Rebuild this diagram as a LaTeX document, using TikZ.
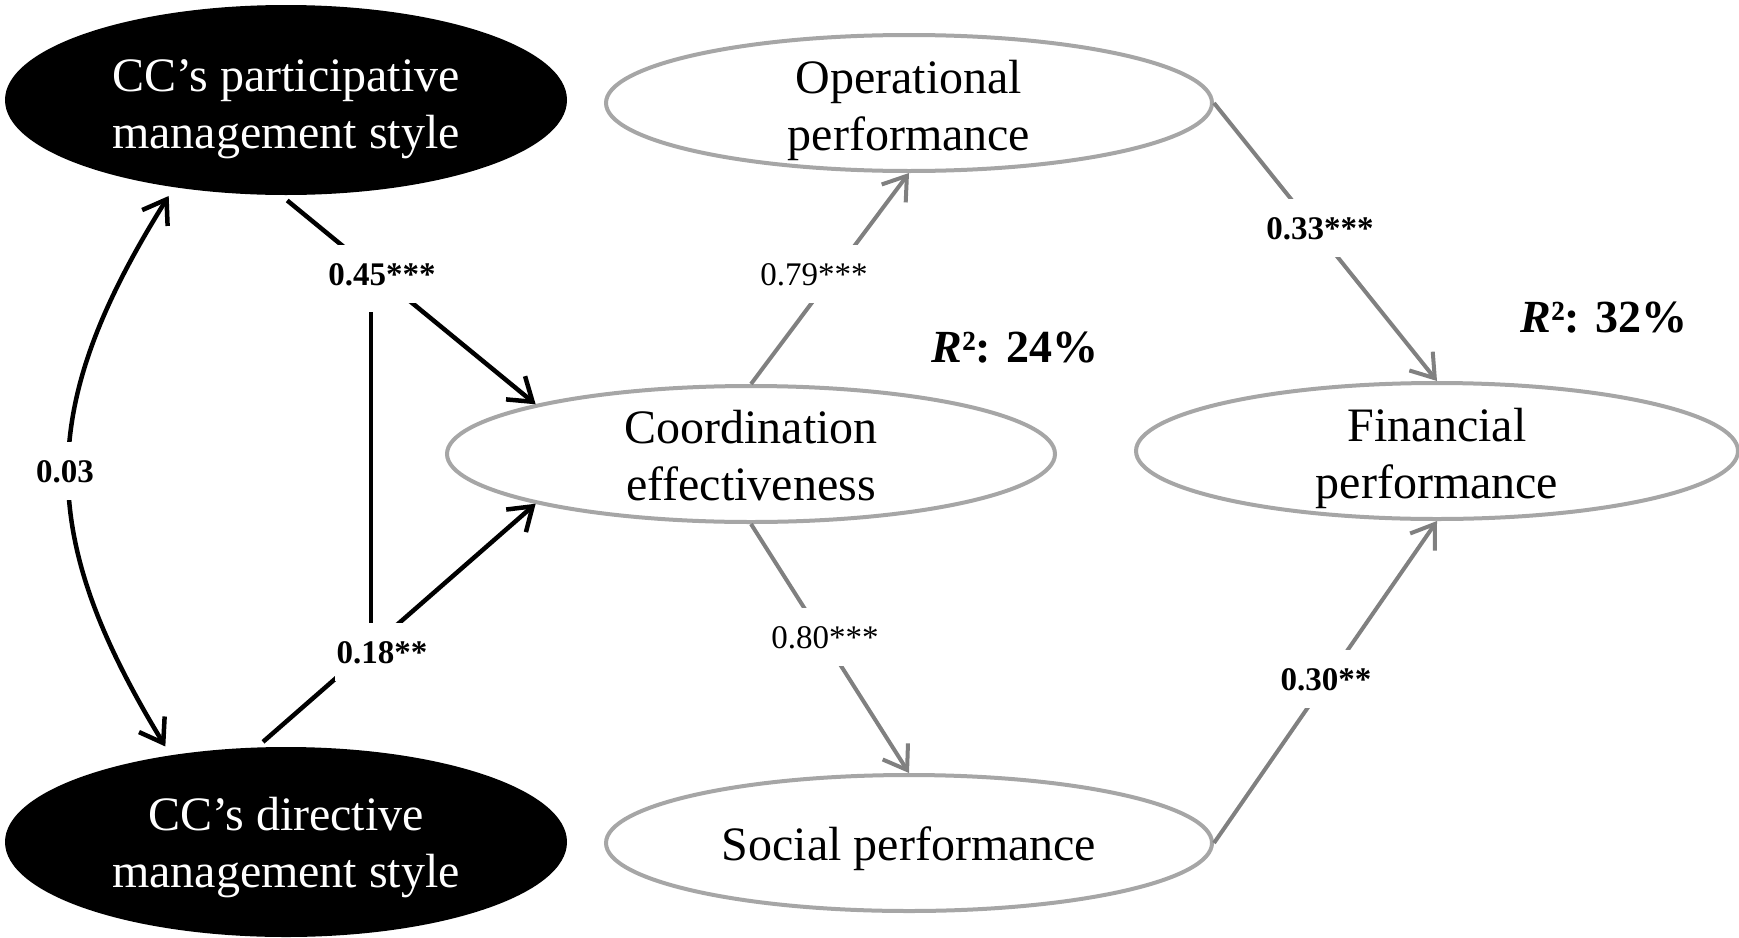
\documentclass[tikz,border=0pt]{standalone}
\usepackage{fontspec}
\setmainfont{Liberation Serif}
\usetikzlibrary{arrows.meta,shapes.geometric}
\definecolor{rimgray}{HTML}{A6A6A6}
\definecolor{pathgray}{HTML}{808080}
% lower a line of text without changing the box the node measures
\newcommand{\sink}[2]{\raisebox{-#1}[\height][\depth]{#2}}

\begin{document}
\begin{tikzpicture}[x=0.5pt,y=-0.5pt,
  construct/.style={ellipse, inner sep=0pt, text depth=0pt, align=center,
    font=\fontsize{24pt}{28.5pt}\selectfont},
  stylebox/.style={construct, fill=black, text=white,
    minimum width=281pt, minimum height=95pt},
  outcome/.style={construct, draw=rimgray, line width=2pt, fill=white,
    minimum height=68pt},
  coef/.style={fill=white, inner xsep=1pt, inner ysep=9pt, text depth=0pt,
    anchor=base, font=\fontsize{16.5pt}{19pt}\selectfont},
  bcoef/.style={coef, font=\fontsize{16.5pt}{19pt}\selectfont\bfseries},
  rsq/.style={anchor=base, inner sep=0pt,
    font=\fontsize{23pt}{27pt}\selectfont\bfseries},
  blackpath/.style={line width=2.25pt, black},
  graypath/.style={line width=2pt, pathgray},
  >={Straight Barb[length=11pt,width=15pt]}
]
\useasboundingbox (0,0) rectangle (1739,937);

% constructs
\node[stylebox] (par) at (286,100)
  {\sink{2pt}{CC’s participative}\\\sink{2pt}{management style}};
\node[stylebox] (dir) at (286,842)
  {\sink{0.3pt}{CC’s directive}\\\sink{0.3pt}{management style}};
\node[outcome, minimum width=304pt] (coord) at (751,454)
  {\sink{0.5pt}{Coordination}\\\sink{0.5pt}{effectiveness}};
\node[outcome, minimum width=303pt] (op) at (909,103)
  {\sink{1.1pt}{Operational}\\\sink{1.1pt}{performance}};
\node[outcome, minimum width=303pt] (soc) at (909,843)
  {\sink{0.5pt}{Social performance}};
\node[outcome, minimum width=301pt] (fin) at (1437,451)
  {\sink{1.3pt}{Financial}\\\sink{1.3pt}{performance}};

% paths
\draw[blackpath, ->, shorten <=4pt] (par.267) -- (coord.167);
\draw[blackpath, ->, shorten <=4pt] (dir.107) -- (coord.193);
\draw[blackpath, <->, shorten <=5pt, shorten >=5pt]
  (par.218) .. controls (36,408) and (36,534) .. (dir.143);
\draw[graypath, ->] (coord.north) -- (op.south);
\draw[graypath, ->] (coord.south) -- (soc.north);
\draw[graypath, ->] (op.east) -- (fin.north);
\draw[graypath, ->] (soc.east) -- (fin.south);

% coefficients
\node[bcoef] (l45) at (382,285) {0.45***};
\node[bcoef] (l18) at (382,663) {0.18**};
\node[bcoef] (l03) at (65,482) {0.03};
\node[coef]  (l79) at (814,285) {0.79***};
\node[coef]  (l80) at (825,648) {0.80***};
\node[bcoef] (l33) at (1320,239) {0.33***};
\node[bcoef] (l30) at (1326,690) {0.30**};

\coordinate (vx) at (371,0);
\draw[blackpath, shorten <=4.5pt] (l45.south -| vx) -- (l18.north -| vx);

% explained variance
\node[rsq] (r24) at (1015,362) {\textit{R}²: 24\%};
\node[rsq] (r32) at (1604,332) {\textit{R}²: 32\%};
\end{tikzpicture}
\end{document}
